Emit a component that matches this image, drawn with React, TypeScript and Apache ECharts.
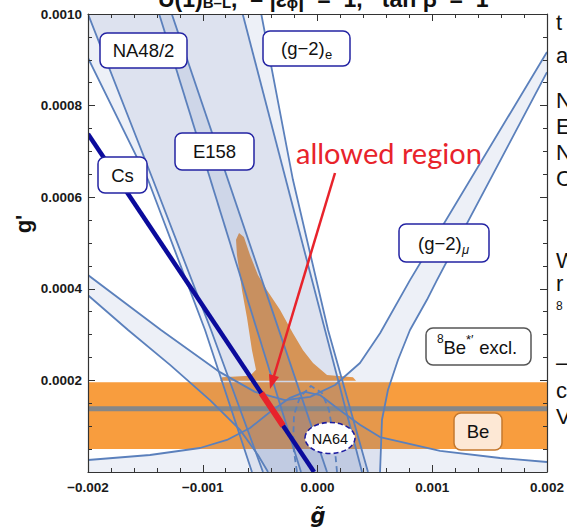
import React, { useEffect, useRef } from "react";
import * as echarts from "echarts";

// units: g~ in 1e-3, g' in 1e-4
const SX = 1e-3;
const SY = 1e-4;

const xRange = [-0.002, 0.002];
const yRange = [0, 0.001];

// straight-ish band boundaries
const lineA = [[-2.0, 10.0], [-1.434, 6.38], [-0.928, 3.1], [-0.475, 0]];
const lineB = [[-2.0, 9.04], [-1.477, 6.38], [-0.98, 3.1], [-0.571, 0]];
const lineR1 = [[-0.652, 10.0], [0.388, 0]];
const lineR2 = [[-0.49, 10.0], [-0.214, 6.38], [0.092, 3.1], [0.44, 0]];
const lineE1 = [[-1.38, 10.0], [-0.144, 0]];
const lineE2 = [[-1.27, 10.0], [0.083, 0]];

// (g-2)_mu band
const muOuter = [[-2.0, 4.3], [-1.364, 3.1], [-0.85, 2.18], [-0.545, 1.75], [-0.283, 1.57], [-0.065, 1.64], [0.153, 1.9], [0.37, 2.38], [0.545, 3.03], [0.806, 4.19], [2.0, 9.17]];
const muInnerRight = [[2.0, 8.73], [1.041, 4.19], [0.954, 3.76], [0.806, 3.1], [0.702, 2.45], [0.614, 1.79], [0.562, 1.14], [0.545, 0]];
const muInnerLeft = [[-2.0, 3.86], [-1.651, 3.1], [-1.285, 2.34], [-0.937, 1.57], [-0.675, 0.92], [-0.519, 0.37], [-0.431, 0]];

// lower bound curve
const curveLow = [[-2.0, 0.262], [-1.46, 0.371], [-1.024, 0.524], [-0.789, 0.699], [-0.588, 0.961], [-0.414, 1.31], [-0.24, 1.62], [-0.109, 1.75], [0.022, 1.68], [0.196, 1.35], [0.37, 1.03], [0.545, 0.764], [1.068, 0.459], [1.59, 0.306], [2.0, 0.218]];

// NA64 dashed arch
const na64Arch = [[-0.179, 0], [-0.213, 0.59], [-0.205, 1.245], [-0.153, 1.638], [-0.057, 1.878], [0.039, 1.725], [0.1, 1.354], [0.144, 0.699], [0.17, 0]];

// Cs line and allowed segment
const csLine = [[-2.0, 7.38], [-0.03, 0]];
const allowedSeg = [[-0.49, 1.725], [-0.3, 1.01]];

// 8Be band
const beBand = [0.5, 1.96];
const beCentral = 1.38;
const beSpike = [[-0.85, 1.99], [-0.832, 2.07], [-0.588, 2.1], [-0.536, 2.23], [-0.571, 2.66], [-0.614, 3.36], [-0.658, 3.97], [-0.702, 4.74], [-0.71, 5.07], [-0.684, 5.22], [-0.641, 5.13], [-0.588, 4.74], [-0.519, 4.3], [-0.44, 3.97], [-0.327, 3.54], [-0.214, 3.03], [-0.126, 2.66], [-0.039, 2.38], [0.083, 2.12], [0.309, 2.07], [0.336, 1.99]];

const STEEL = "#5b80bc";
const LAYER = "rgba(88,122,178,0.11)";
const ORANGE = "#f89d3e";
const BOXBLUE = "#2323a3";
const SANS = "Liberation Sans, Arial, sans-serif";

const toData = (p: number[]) => [p[0] * SX, p[1] * SY];

function polySeries(pts: number[][], fill: string, z: number) {
  return {
    type: "custom",
    coordinateSystem: "cartesian2d",
    z,
    silent: true,
    clip: true,
    data: pts.map(toData),
    renderItem: (params: any, api: any) => {
      if (params.dataIndex !== 0) return null;
      return {
        type: "polygon",
        shape: { points: pts.map((p) => api.coord(toData(p))) },
        style: { fill },
      };
    },
  };
}

function lineSeries(pts: number[][], stroke: string, width: number, z: number, dash?: number[]) {
  return {
    type: "custom",
    coordinateSystem: "cartesian2d",
    z,
    silent: true,
    clip: true,
    data: pts.map(toData),
    renderItem: (params: any, api: any) => {
      if (params.dataIndex !== 0) return null;
      return {
        type: "polyline",
        shape: { points: pts.map((p) => api.coord(toData(p))) },
        style: { stroke, lineWidth: width, fill: null, lineDash: dash || null, lineCap: "butt", lineJoin: "round" },
      };
    },
  };
}

const rev = (a: number[][]) => a.slice().reverse();

function boxLabel(x: number, y: number, w: number, h: number, stroke: string, fill = "#fff") {
  return { type: "rect", z: 50, shape: { x, y, width: w, height: h, r: 7 }, style: { fill, stroke, lineWidth: 1.5 } };
}
function txt(x: number, y: number, text: string, size: number, opts: any = {}) {
  return {
    type: "text",
    z: 51,
    x,
    y,
    rotation: opts.rotation || 0,
    style: {
      text,
      fontSize: size,
      fontFamily: opts.family || SANS,
      fontWeight: opts.weight || "normal",
      fontStyle: opts.style || "normal",
      fill: opts.color || "#111",
      align: opts.align || "center",
      verticalAlign: opts.va || "middle",
    },
  };
}

export default function App() {
  const ref = useRef<HTMLDivElement>(null);
  useEffect(() => {
    if (!ref.current) return;
    const chart = echarts.init(ref.current, null, { renderer: "svg" });
    const axisBase = {
      type: "value",
      z: 20,
      axisLine: { show: true, onZero: false, lineStyle: { color: "#333", width: 1.2 } },
      axisTick: { show: true, inside: true, length: 7, lineStyle: { color: "#333", width: 1 } },
      splitLine: { show: false },
    };
    const xLab = {
      fontFamily: SANS,
      fontWeight: "bold",
      fontSize: 13.5,
      color: "#1a1a1a",
      margin: 8,
      formatter: (v: number) => (Math.abs(v) < 1e-12 ? "0.000" : (v < 0 ? "\u2212" : "") + Math.abs(v).toFixed(3)),
    };
    const yLab = {
      fontFamily: SANS,
      fontWeight: "bold",
      fontSize: 13.5,
      color: "#1a1a1a",
      margin: 6,
      formatter: (v: number) => (Math.abs(v) < 1e-12 ? "" : v.toFixed(4)),
    };
    const rightCol: [string, number, number][] = [
      ["t", 22, 22], ["a", 55, 22], ["N", 100, 22], ["E", 126, 22], ["N", 152, 22], ["C", 178, 22],
      ["W", 260, 22], ["r", 283, 22], ["8", 306, 12], ["\u2013", 362, 22], ["c", 390, 22], ["V", 416, 22],
    ];
    const option: any = {
      animation: false,
      backgroundColor: "#fff",
      grid: { left: 88, right: 20, top: 14, bottom: 56, containLabel: false },
      xAxis: [
        { ...axisBase, min: xRange[0], max: xRange[1], interval: 0.001, position: "bottom", axisLabel: xLab,
          minorTick: { show: true, splitNumber: 5, length: 4, lineStyle: { color: "#333" } } },
        { ...axisBase, min: xRange[0], max: xRange[1], interval: 0.001, position: "top", axisLabel: { show: false },
          minorTick: { show: true, splitNumber: 5, length: 4, lineStyle: { color: "#333" } } },
      ],
      yAxis: [
        { ...axisBase, min: yRange[0], max: yRange[1], interval: 0.0002, position: "left", axisLabel: yLab,
          minorTick: { show: true, splitNumber: 4, length: 4, lineStyle: { color: "#333" } } },
        { ...axisBase, min: yRange[0], max: yRange[1], interval: 0.0002, position: "right", axisLabel: { show: false },
          minorTick: { show: true, splitNumber: 4, length: 4, lineStyle: { color: "#333" } } },
      ],
      series: [
        polySeries([[-2, beBand[0]], [2, beBand[0]], [2, beBand[1]], [-2, beBand[1]]], ORANGE, 2),
        polySeries(beSpike, ORANGE, 2),
        polySeries([[-2, 10], ...lineB, ...rev(lineR1)], LAYER, 3),
        polySeries([...lineA, ...rev(lineR2)], LAYER, 3),
        polySeries([...lineE1, ...rev(lineE2)], LAYER, 3),
        polySeries([...muOuter, ...muInnerRight, ...rev(muInnerLeft)], LAYER, 3),
        polySeries([...curveLow, [2, 0], [-2, 0]], LAYER, 3),
        lineSeries([[-2, beCentral], [2, beCentral]], "#878787", 5, 4),
        lineSeries(lineA, STEEL, 1.8, 5),
        lineSeries(lineB, STEEL, 1.8, 5),
        lineSeries(lineR1, STEEL, 1.8, 5),
        lineSeries(lineR2, STEEL, 1.8, 5),
        lineSeries(lineE1, STEEL, 1.8, 5),
        lineSeries(lineE2, STEEL, 1.8, 5),
        lineSeries(muOuter, STEEL, 1.8, 5),
        lineSeries(muInnerRight, STEEL, 1.8, 5),
        lineSeries(muInnerLeft, STEEL, 1.8, 5),
        lineSeries(curveLow, STEEL, 1.8, 5),
        lineSeries(na64Arch, STEEL, 1.8, 5, [6, 4]),
        lineSeries(csLine, "#0b0b9c", 4.5, 6),
        lineSeries(allowedSeg, "#e8232b", 6, 7),
      ],
      graphic: [
        // partial title at the top (cut by the page edge, as in the reference)
        {
          type: "text", z: 60, x: 158, y: 10,
          style: {
            text: "{a|U(1)}{s|B\u2013L}{a|,  \u2013 |\u03b5}{s|\u03d5}{a||  =  1,   tan \u03b2  =  1}",
            verticalAlign: "bottom", align: "left", fill: "#111",
            rich: {
              a: { fontSize: 23, fontWeight: "bold", fontFamily: SANS, verticalAlign: "bottom" },
              s: { fontSize: 15, fontWeight: "bold", fontFamily: SANS, verticalAlign: "bottom" },
            },
          },
        },
        ...rightCol.map(([c, y, s]) => txt(556, y, c, s, { align: "left" })),
        // labels
        boxLabel(100, 33, 87, 35, BOXBLUE),
        txt(143.5, 50.5, "NA48/2", 18.5),
        boxLabel(263, 31, 87, 35, BOXBLUE),
        txt(281, 48.5, "(g\u22122)", 18.5, { align: "left" }),
        txt(325, 54, "e", 13, { align: "left" }),
        boxLabel(175, 133, 79, 37, BOXBLUE),
        txt(214.5, 151.5, "E158", 18.5),
        boxLabel(98, 157, 49, 36, BOXBLUE),
        txt(122.5, 175, "Cs", 18.5),
        boxLabel(399, 224, 90, 38, BOXBLUE),
        txt(418, 243, "(g\u22122)", 18.5, { align: "left" }),
        txt(462, 249, "\u03bc", 13, { align: "left", style: "italic" }),
        boxLabel(426, 328, 105, 37, "#555"),
        txt(437, 339, "8", 12, { align: "left" }),
        txt(443.5, 347, "Be", 18.5, { align: "left" }),
        txt(466, 339, "*\u2032", 13, { align: "left" }),
        txt(474, 347, " excl.", 18.5, { align: "left" }),
        boxLabel(454, 413, 48, 37, "#c4782e", "#fde8d5"),
        txt(478, 431.5, "Be", 18.5),
        {
          type: "ellipse", z: 50, shape: { cx: 330, cy: 438, rx: 25, ry: 15.5 },
          style: { fill: "#fff", stroke: "#1c1ca0", lineWidth: 1.6, lineDash: [5, 3] },
        },
        txt(330, 438.5, "NA64", 14.5),
        // allowed region annotation
        txt(296, 152, "allowed region", 29, { align: "left", family: "Lato, sans-serif", color: "#e8232b" }),
        { type: "line", z: 55, shape: { x1: 335, y1: 173, x2: 274, y2: 376 }, style: { stroke: "#e8232b", lineWidth: 2.5 } },
        { type: "polygon", z: 55, shape: { points: [[270, 389], [279, 377], [269, 374]] }, style: { fill: "#e8232b" } },
        // axis names
        txt(318, 516, "g\u0303", 21, { weight: "bold", style: "italic", family: "DejaVu Sans, sans-serif" }),
        txt(23, 224, "g'", 22, { weight: "bold", rotation: Math.PI / 2 }),
      ],
    };
    chart.setOption(option);
    return () => chart.dispose();
  }, []);
  return <div ref={ref} style={{ position: "fixed", left: 0, top: 0, width: 567, height: 528 }} />;
}
